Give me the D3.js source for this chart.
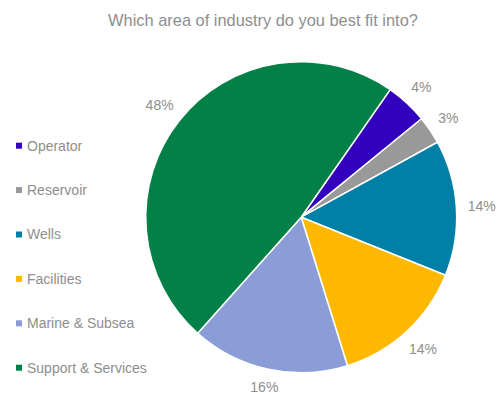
<!DOCTYPE html>
<html>
<head>
<meta charset="utf-8">
<script src="https://cdn.jsdelivr.net/npm/d3@7"></script>
<style>
  html, body { margin: 0; padding: 0; background: #fff; }
  svg { display: block; }
  text { font-family: "Liberation Sans", Arial, sans-serif; fill: #8e8e8e; }
</style>
</head>
<body>
<svg id="chart" width="497" height="394"></svg>
<script>
// Survey answers: share of respondents (%) per industry area
const categories = ["Operator", "Reservoir", "Wells", "Facilities", "Marine & Subsea", "Support & Services"];
const shares = [4.4, 2.9, 14.1, 14.1, 16.4, 48.1];
const colors = ["#3300c0", "#999999", "#0080a7", "#ffb800", "#8b9dd6", "#038046"];
const title = "Which area of industry do you best fit into?";

const W = 497, H = 394;
const cx = 301.2, cy = 217.2, radius = 155.5;
const startRot = 34.9 * Math.PI / 180;
const labelGap = 11;

const svg = d3.select("#chart");

svg.append("text")
  .attr("x", 263).attr("y", 25.5)
  .attr("text-anchor", "middle")
  .style("font-size", "16.4px")
  .text(title);

const data = categories.map((c, i) => ({ name: c, value: shares[i], color: colors[i] }));

const pie = d3.pie()
  .value(d => d.value)
  .sort(null)
  .startAngle(startRot)
  .endAngle(startRot + 2 * Math.PI);

const arc = d3.arc().innerRadius(0).outerRadius(radius);

const g = svg.append("g").attr("transform", `translate(${cx},${cy})`);
const arcs = pie(data);

g.selectAll("path.slice")
  .data(arcs)
  .join("path")
  .attr("class", "slice")
  .attr("d", arc)
  .attr("fill", d => d.data.color)
  .attr("stroke", "#ffffff")
  .attr("stroke-width", 1.5)
  .attr("stroke-linejoin", "round");

// Outside-end labels: the label box sits a fixed gap beyond the rim
const pct = g.selectAll("text.pct")
  .data(arcs)
  .join("text")
  .attr("class", "pct")
  .attr("text-anchor", "middle")
  .attr("dy", "0.35em")
  .style("font-size", "14px")
  .text(d => Math.round(d.data.value) + "%");

pct.each(function (d) {
  const bb = this.getBBox();
  const a = (d.startAngle + d.endAngle) / 2;
  const s = Math.sin(a), c = -Math.cos(a);
  const half = (bb.width / 2) * Math.abs(s) + (bb.height * 0.3) * Math.abs(c);
  const rr = radius + labelGap + half;
  d3.select(this).attr("transform", `translate(${rr * s},${rr * c})`);
});

// Legend on the left, one row per category
const legendY = d3.scalePoint().domain(categories).range([145.7, 367.7]);
const legend = svg.append("g");
const rows = legend.selectAll("g.row")
  .data(data)
  .join("g")
  .attr("class", "row")
  .attr("transform", d => `translate(16,${legendY(d.name)})`);

rows.append("rect")
  .attr("x", 0).attr("y", -3)
  .attr("width", 6).attr("height", 6)
  .attr("fill", d => d.color);

rows.append("text")
  .attr("x", 11).attr("dy", "0.35em")
  .style("font-size", "14px")
  .text(d => d.name);
</script>
</body>
</html>
